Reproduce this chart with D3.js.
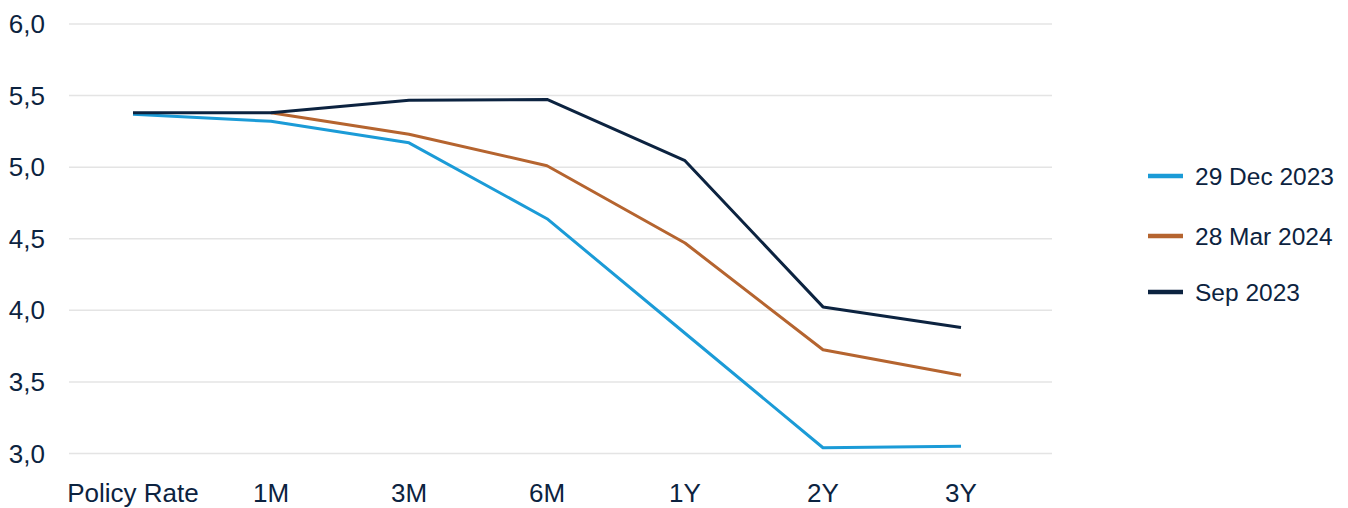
<!DOCTYPE html>
<html>
<head>
<meta charset="utf-8">
<script src="https://cdn.jsdelivr.net/npm/d3@7"></script>
<style>
  html, body { margin: 0; padding: 0; background: #ffffff; }
  svg { display: block; font-family: "Liberation Sans", Arial, sans-serif; }
</style>
</head>
<body>
<svg id="chart" width="1348" height="508"></svg>
<script>
// ---- data ----
const categories = ["Policy Rate", "1M", "3M", "6M", "1Y", "2Y", "3Y"];
const yTicks = [3.0, 3.5, 4.0, 4.5, 5.0, 5.5, 6.0];
const seriesNames = ["29 Dec 2023", "28 Mar 2024", "Sep 2023"];
const dec2023 = [5.37, 5.32, 5.17, 4.64, 3.84, 3.04, 3.05];
const mar2024 = [null, 5.38, 5.23, 5.01, 4.47, 3.725, 3.546];
const sep2023 = [5.38, 5.38, 5.468, 5.473, 5.045, 4.024, 3.88];

const colors = ["#1b9bd7", "#b5642f", "#0c2340"];
const textColor = "#0c2340";

const svg = d3.select("#chart");
const x = d3.scalePoint().domain(categories).range([64, 1030]).padding(0.5);
const y = d3.scaleLinear().domain([3, 6]).range([453.5, 24]);

// gridlines
svg.append("g").selectAll("line").data(yTicks).join("line")
  .attr("x1", 69).attr("x2", 1052)
  .attr("y1", d => y(d)).attr("y2", d => y(d))
  .attr("stroke", "#e4e4e4").attr("stroke-width", 1.5);

// y labels
const fmt = d => d3.format(".1f")(d).replace(".", ",");
svg.append("g").selectAll("text").data(yTicks).join("text")
  .attr("x", 45).attr("y", d => y(d)).attr("dy", "0.35em")
  .attr("text-anchor", "end")
  .attr("font-size", 26).attr("fill", textColor)
  .text(fmt);

// x labels
svg.append("g").selectAll("text").data(categories).join("text")
  .attr("x", d => x(d)).attr("y", 502)
  .attr("text-anchor", "middle")
  .attr("font-size", 26).attr("fill", textColor)
  .text(d => d);

// lines
const allSeries = [dec2023, mar2024, sep2023];
const line = d3.line()
  .defined(d => d.v != null)
  .x(d => x(d.c)).y(d => y(d.v));

// draw order: orange, blue, navy on top
[1, 0, 2].forEach(i => {
  const pts = categories.map((c, j) => ({ c, v: allSeries[i][j] }));
  svg.append("path").datum(pts)
    .attr("d", line)
    .attr("fill", "none")
    .attr("stroke", colors[i])
    .attr("stroke-width", 3)
    .attr("stroke-linejoin", "round");
});

// legend
const legendY = [176, 236, 292];
const lg = svg.append("g");
seriesNames.forEach((n, i) => {
  lg.append("line")
    .attr("x1", 1148).attr("x2", 1183)
    .attr("y1", legendY[i]).attr("y2", legendY[i])
    .attr("stroke", colors[i]).attr("stroke-width", 4.5);
  lg.append("text")
    .attr("x", 1195).attr("y", legendY[i]).attr("dy", "0.35em")
    .attr("font-size", 24.5).attr("fill", textColor)
    .text(n);
});
</script>
</body>
</html>
